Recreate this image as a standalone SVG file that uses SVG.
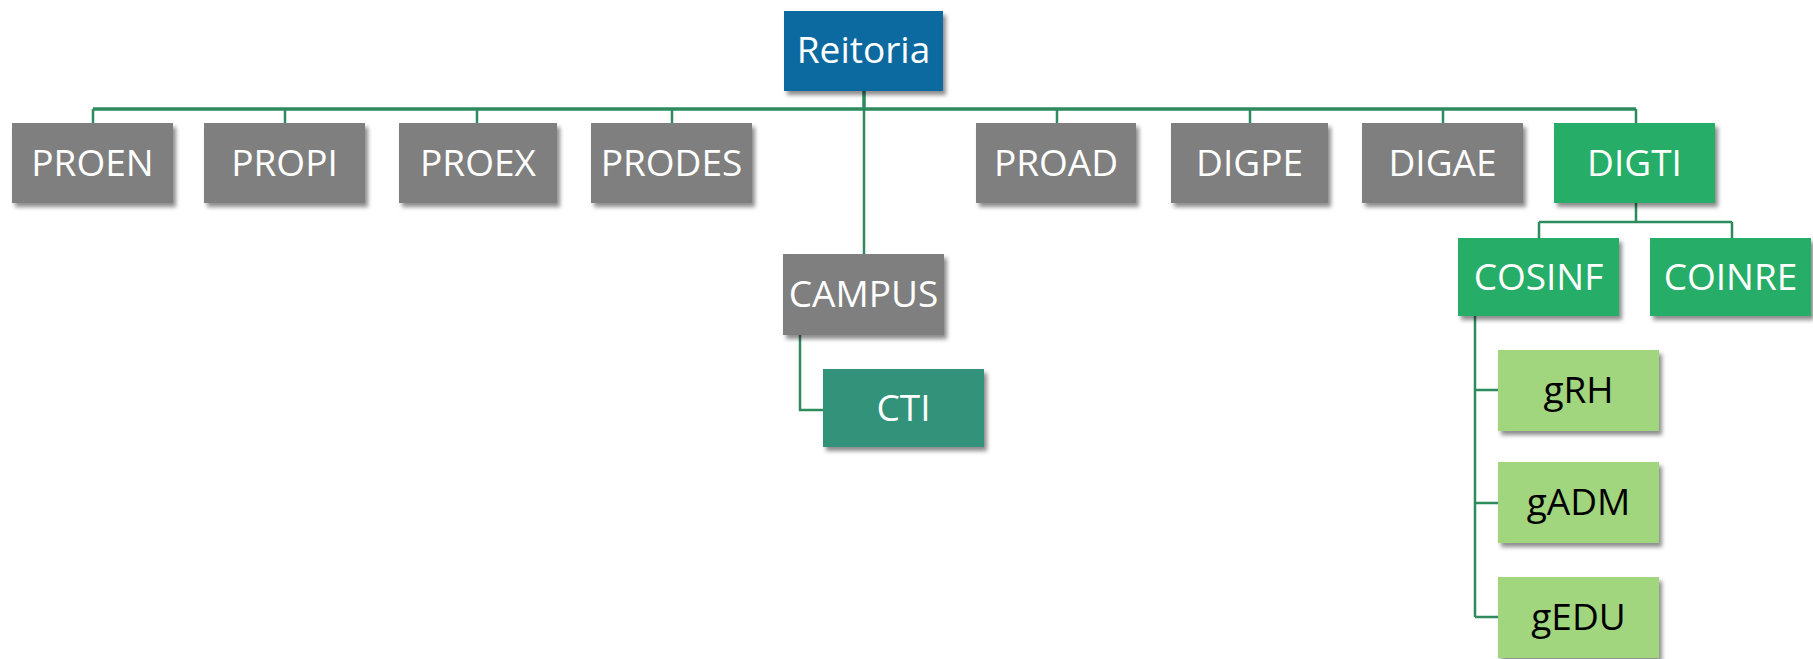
<svg xmlns="http://www.w3.org/2000/svg" width="1813" height="659" viewBox="0 0 1813 659">
<defs>
<filter id="sh" x="-10%" y="-10%" width="130%" height="140%">
<feDropShadow dx="3" dy="4" stdDeviation="2" flood-color="#000" flood-opacity="0.45"/>
</filter>
<style>
.n{filter:url(#sh);}
.gray{fill:#7f7f7f;}
.blue{fill:#0a6aa1;}
.green{fill:#27ae68;}
.cti{fill:#31927a;}
.lg{fill:#a1d57e;}
text{font-family:"Open Sans","Liberation Sans",sans-serif;font-size:37px;text-anchor:middle;fill:#fff;}
text.dk{fill:#000;}
.c{stroke:#2e8b5e;stroke-width:2.5;fill:none;}
.cm{stroke:#2e8b5e;stroke-width:3.5;fill:none;}
</style>
</defs>
<rect width="1813" height="659" fill="#fff"/>
<g id="connectors">
<path class="cm" d="M864 91V109M93 109H1636"/>
<path class="c" d="M93 109V123M285 109V123M477 109V123M672 109V123M1057 109V123M1250 109V123M1443 109V123M1636 109V123"/>
<path class="c" d="M864 109V254"/>
<path class="c" d="M800 335V410H823"/>
<path class="c" d="M1636 203V222M1539 222H1732M1539 222V238M1732 222V238"/>
<path class="c" d="M1475 316V617M1475 390H1498M1475 503H1498M1475 617H1498"/>
</g>
<g id="reitoria"><rect class="n blue" x="784" y="11" width="159" height="80"/><text x="863.5" y="63">Reitoria</text></g>
<g id="proen"><rect class="n gray" x="12" y="123" width="161" height="80"/><text x="92.5" y="176">PROEN</text></g>
<g id="propi"><rect class="n gray" x="204" y="123" width="161" height="80"/><text x="284.5" y="176">PROPI</text></g>
<g id="proex"><rect class="n gray" x="399" y="123" width="158" height="80"/><text x="478" y="176">PROEX</text></g>
<g id="prodes"><rect class="n gray" x="591" y="123" width="161" height="80"/><text x="671.5" y="176">PRODES</text></g>
<g id="proad"><rect class="n gray" x="976" y="123" width="160" height="80"/><text x="1056" y="176">PROAD</text></g>
<g id="digpe"><rect class="n gray" x="1171" y="123" width="157" height="80"/><text x="1249.5" y="176">DIGPE</text></g>
<g id="digae"><rect class="n gray" x="1362" y="123" width="161" height="80"/><text x="1442.5" y="176">DIGAE</text></g>
<g id="digti"><rect class="n green" x="1554" y="123" width="161" height="80"/><text x="1634.5" y="176">DIGTI</text></g>
<g id="campus"><rect class="n gray" x="783" y="254" width="161" height="81"/><text x="863.5" y="307">CAMPUS</text></g>
<g id="cti"><rect class="n cti" x="823" y="369" width="161" height="78"/><text x="903.5" y="421">CTI</text></g>
<g id="cosinf"><rect class="n green" x="1458" y="238" width="161" height="78"/><text x="1538.5" y="290">COSINF</text></g>
<g id="coinre"><rect class="n green" x="1650" y="238" width="161" height="78"/><text x="1730.5" y="290">COINRE</text></g>
<g id="grh"><rect class="n lg" x="1498" y="350" width="161" height="81"/><text class="dk" x="1578.5" y="403">gRH</text></g>
<g id="gadm"><rect class="n lg" x="1498" y="462" width="161" height="81"/><text class="dk" x="1578.5" y="515">gADM</text></g>
<g id="gedu"><rect class="n lg" x="1498" y="577" width="161" height="81"/><text class="dk" x="1578.5" y="630">gEDU</text></g>
</svg>
